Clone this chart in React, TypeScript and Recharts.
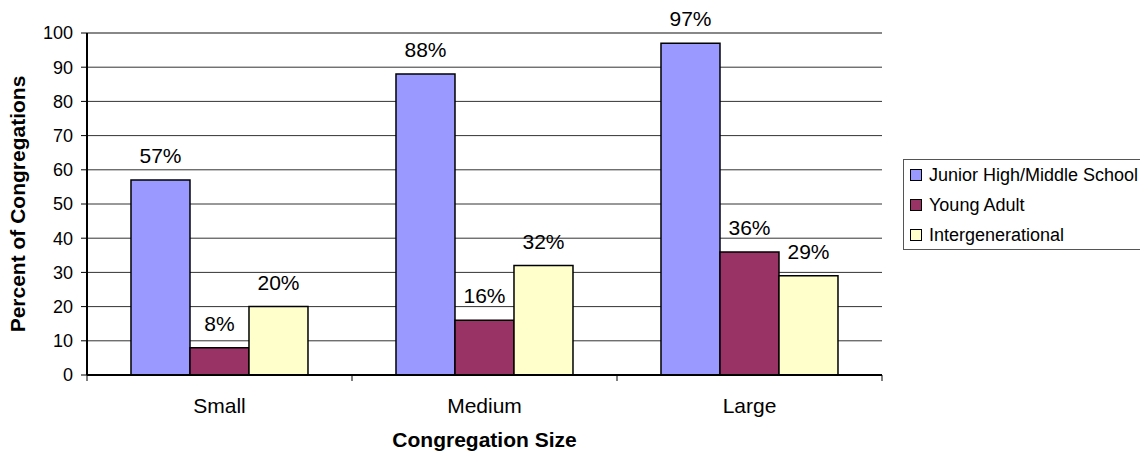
import React from 'react';
import {
  BarChart,
  Bar,
  XAxis,
  YAxis,
  CartesianGrid,
  LabelList,
  ReferenceLine,
} from 'recharts';

// Share of congregations offering each ministry type, by congregation size
const categories = ['Small', 'Medium', 'Large'];
const juniorHigh = [57, 88, 97];
const youngAdult = [8, 16, 36];
const intergenerational = [20, 32, 29];
const yTicks = [0, 10, 20, 30, 40, 50, 60, 70, 80, 90, 100];

const seriesNames = ['Junior High/Middle School', 'Young Adult', 'Intergenerational'];
const seriesKeys = ['juniorHigh', 'youngAdult', 'intergenerational'];
const seriesColors = ['#9999FF', '#993366', '#FFFFCC'];

const data = categories.map((size, i) => ({
  size,
  juniorHigh: juniorHigh[i],
  youngAdult: youngAdult[i],
  intergenerational: intergenerational[i],
}));

const FONT = '"Liberation Sans", Arial, sans-serif';
const WIDTH = 1140;
const HEIGHT = 453;
const PLOT_BOTTOM = 375;

// Category label plus a tick mark on each band boundary
const SizeTick = (props: any) => {
  const { x, y, payload, index, visibleTicksCount } = props;
  const half = payload?.offset ?? 0;
  const last = index === (visibleTicksCount ?? categories.length) - 1;
  return (
    <g>
      <line x1={x - half} x2={x - half} y1={PLOT_BOTTOM} y2={PLOT_BOTTOM + 6} stroke="#000" strokeWidth={1} />
      {last && (
        <line x1={x + half} x2={x + half} y1={PLOT_BOTTOM} y2={PLOT_BOTTOM + 6} stroke="#000" strokeWidth={1} />
      )}
      <text x={x} y={y} dy="0.71em" textAnchor="middle" fontSize={21} fontFamily={FONT} fill="#000">
        {payload.value}
      </text>
    </g>
  );
};

const App: React.FC = () => {
  return (
    <div style={{ position: 'absolute', left: 0, top: 0, width: WIDTH, height: HEIGHT, background: '#fff' }}>
      <BarChart
        width={WIDTH}
        height={HEIGHT}
        data={data}
        margin={{ top: 33, right: 258, bottom: 0, left: 0 }}
        barCategoryGap="16.6%"
        barGap={0}
      >
        <CartesianGrid vertical={false} stroke="#333" strokeWidth={1} />
        <XAxis
          dataKey="size"
          height={78}
          axisLine={{ stroke: '#000', strokeWidth: 2 }}
          tickLine={false}
          tickSize={6}
          tickMargin={17}
          tick={<SizeTick />}
          interval={0}
          label={{
            value: 'Congregation Size',
            position: 'insideBottom',
            offset: 6,
            style: { fontFamily: FONT, fontSize: 21, fontWeight: 'bold', fill: '#000' },
          }}
        />
        <YAxis
          width={87}
          domain={[0, 100]}
          ticks={yTicks}
          interval={0}
          axisLine={{ stroke: '#000', strokeWidth: 2 }}
          tickLine={{ stroke: '#000' }}
          tickSize={6}
          tickMargin={8}
          tick={{ fontFamily: FONT, fontSize: 18, fill: '#000' }}
          label={{
            value: 'Percent of Congregations',
            angle: -90,
            position: 'insideLeft',
            offset: 18,
            style: { fontFamily: FONT, fontSize: 21, fontWeight: 'bold', fill: '#000', textAnchor: 'middle' },
          }}
        />
        <YAxis
          yAxisId="frame"
          orientation="right"
          width={0}
          domain={[0, 100]}
          tick={false}
          tickLine={false}
          axisLine={{ stroke: '#888', strokeWidth: 2 }}
        />
        <ReferenceLine y={100} stroke="#888" strokeWidth={2} />
        {seriesKeys.map((key, i) => (
          <Bar
            key={key}
            dataKey={key}
            name={seriesNames[i]}
            fill={seriesColors[i]}
            stroke="#000"
            strokeWidth={1.5}
            isAnimationActive={false}
          >
            <LabelList
              dataKey={key}
              position="top"
              offset={17}
              formatter={(v: any) => `${v}%`}
              style={{ fontFamily: FONT, fontSize: 21, fill: '#000' }}
            />
          </Bar>
        ))}
      </BarChart>

      {/* Legend box, partly running off the right edge */}
      <div
        style={{
          position: 'absolute',
          left: 903,
          top: 159,
          width: 250,
          height: 91,
          boxSizing: 'border-box',
          border: '1.5px solid #555',
          background: '#fff',
          fontFamily: FONT,
          fontSize: 18,
          color: '#000',
        }}
      >
        {seriesNames.map((name, i) => (
          <div key={name} style={{ display: 'flex', alignItems: 'center', height: 30, whiteSpace: 'nowrap' }}>
            <span
              style={{
                display: 'inline-block',
                width: 10,
                height: 10,
                marginLeft: 6,
                marginRight: 7,
                border: '1.5px solid #000',
                background: seriesColors[i],
              }}
            />
            {name}
          </div>
        ))}
      </div>
    </div>
  );
};

export default App;
